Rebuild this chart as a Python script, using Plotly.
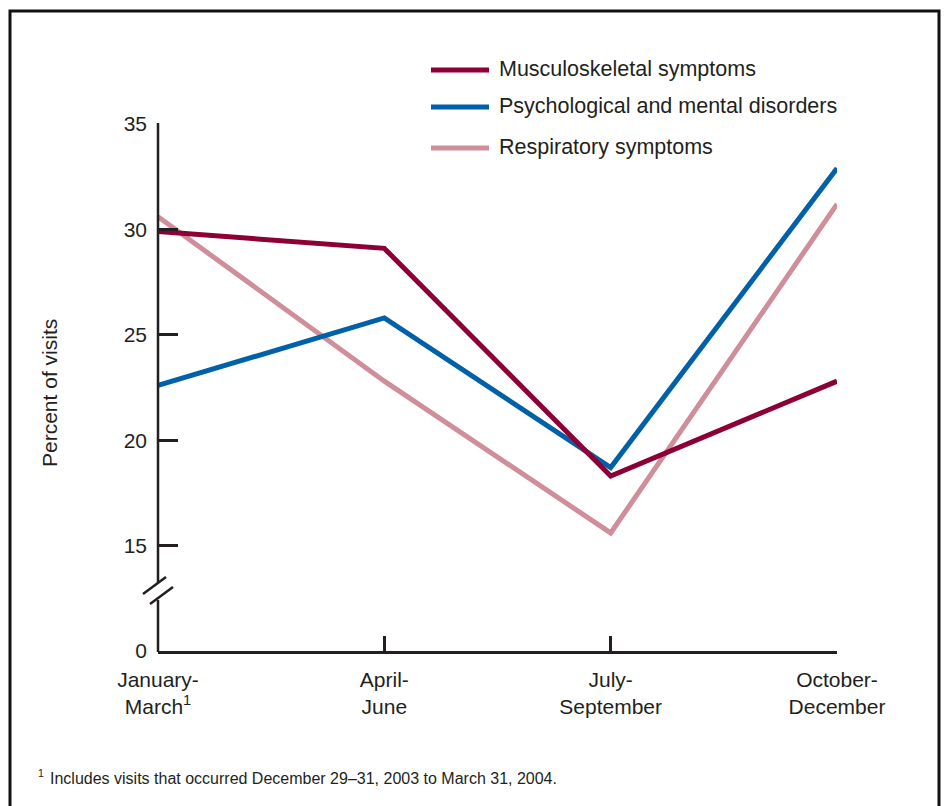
import plotly.graph_objects as go

# ---- data ----
quarters = ["January-<br>March<sup>1</sup>", "April-<br>June", "July-<br>September", "October-<br>December"]
series_names = ["Musculoskeletal symptoms", "Psychological and mental disorders", "Respiratory symptoms"]
musculoskeletal = [29.9, 29.1, 18.3, 22.8]
psychological = [22.6, 25.8, 18.7, 32.9]
respiratory = [30.6, 22.8, 15.6, 31.2]
colors = ["#8C0036", "#0061A9", "#D08E9A"]
y_tickvals = [10, 15, 20, 25, 30, 35]
y_ticktext = ["0", "15", "20", "25", "30", "35"]
footnote = "Includes visits that occurred December 29\u201331, 2003 to March 31, 2004."

W, H = 945, 806
L, R, T, B = 158, 837, 124, 651
FONT = "Liberation Sans, Arial, Helvetica, sans-serif"
AX = "#231F20"
TXT = "#231F20"


def px(x):
    return (x - L) / (R - L)


def py(y):
    return (B - y) / (B - T)


fig = go.Figure()
xs = [0, 1, 2, 3]
# draw order: respiratory, psychological, musculoskeletal on top
for name, vals, col in [(series_names[2], respiratory, colors[2]),
                        (series_names[1], psychological, colors[1]),
                        (series_names[0], musculoskeletal, colors[0])]:
    fig.add_trace(go.Scatter(x=xs, y=vals, mode="lines", name=name,
                             line=dict(color=col, width=5),
                             cliponaxis=False, showlegend=False))

shapes = []
# frame
shapes.append(dict(type="rect", xref="paper", yref="paper",
                   x0=px(10), x1=px(939), y0=py(840), y1=py(11),
                   line=dict(color="#111111", width=3), fillcolor="rgba(0,0,0,0)"))
# y axis with break
shapes.append(dict(type="line", xref="paper", yref="paper", x0=0, x1=0,
                   y0=py(583), y1=py(T - 1), line=dict(color=AX, width=2.5)))
shapes.append(dict(type="line", xref="paper", yref="paper", x0=0, x1=0,
                   y0=py(B + 1), y1=py(600), line=dict(color=AX, width=2.5)))
shapes.append(dict(type="line", xref="paper", yref="paper", x0=px(143), x1=px(166),
                   y0=py(594), y1=py(577), line=dict(color=AX, width=2.5)))
shapes.append(dict(type="line", xref="paper", yref="paper", x0=px(150), x1=px(173),
                   y0=py(604), y1=py(587), line=dict(color=AX, width=2.5)))

annotations = []
# legend (manual)
leg_y = [70, 107, 148]
for i, (name, col) in enumerate(zip(series_names, colors)):
    shapes.append(dict(type="line", xref="paper", yref="paper",
                       x0=px(431), x1=px(489), y0=py(leg_y[i]), y1=py(leg_y[i]),
                       line=dict(color=col, width=5)))
    annotations.append(dict(xref="paper", yref="paper", x=px(497), y=py(leg_y[i] - 1),
                            text=name, showarrow=False, xanchor="left", yanchor="middle",
                            font=dict(family=FONT, size=21.5, color=TXT)))

# y-axis title
annotations.append(dict(xref="paper", yref="paper", x=px(49), y=py(393),
                        text="Percent of visits", textangle=-90, showarrow=False,
                        xanchor="center", yanchor="middle",
                        font=dict(family=FONT, size=21, color=TXT)))
# footnote
annotations.append(dict(xref="paper", yref="paper", x=px(36), y=py(773),
                        text="<sup>1</sup>", showarrow=False, xanchor="left", yanchor="middle",
                        font=dict(family=FONT, size=15, color=TXT)))
annotations.append(dict(xref="paper", yref="paper", x=px(48), y=py(778),
                        text=footnote, showarrow=False, xanchor="left", yanchor="middle",
                        font=dict(family=FONT, size=16, color=TXT)))

fig.update_layout(
    width=W, height=H,
    margin=dict(l=L, r=W - R, t=T, b=H - B, autoexpand=False),
    paper_bgcolor="white", plot_bgcolor="white",
    shapes=shapes, annotations=annotations,
    font=dict(family=FONT, color=TXT),
)
fig.update_xaxes(range=[0, 3], tickvals=xs, ticktext=quarters,
                 showgrid=False, zeroline=False, showline=True, linecolor=AX, linewidth=2.5,
                 ticks="inside", ticklen=15, tickwidth=2.5, tickcolor=AX, ticklabelstandoff=8,
                 tickfont=dict(family=FONT, size=21, color=TXT), fixedrange=True)
fig.update_yaxes(range=[10, 35], tickvals=y_tickvals, ticktext=y_ticktext,
                 showgrid=False, zeroline=False, showline=False,
                 ticks="inside", ticklen=20, tickwidth=2.5, tickcolor=AX, ticklabelstandoff=10,
                 tickfont=dict(family=FONT, size=21, color=TXT), fixedrange=True)

fig.write_html("out.html", config={"displayModeBar": False},
               post_script="document.body.style.margin='0px';")
